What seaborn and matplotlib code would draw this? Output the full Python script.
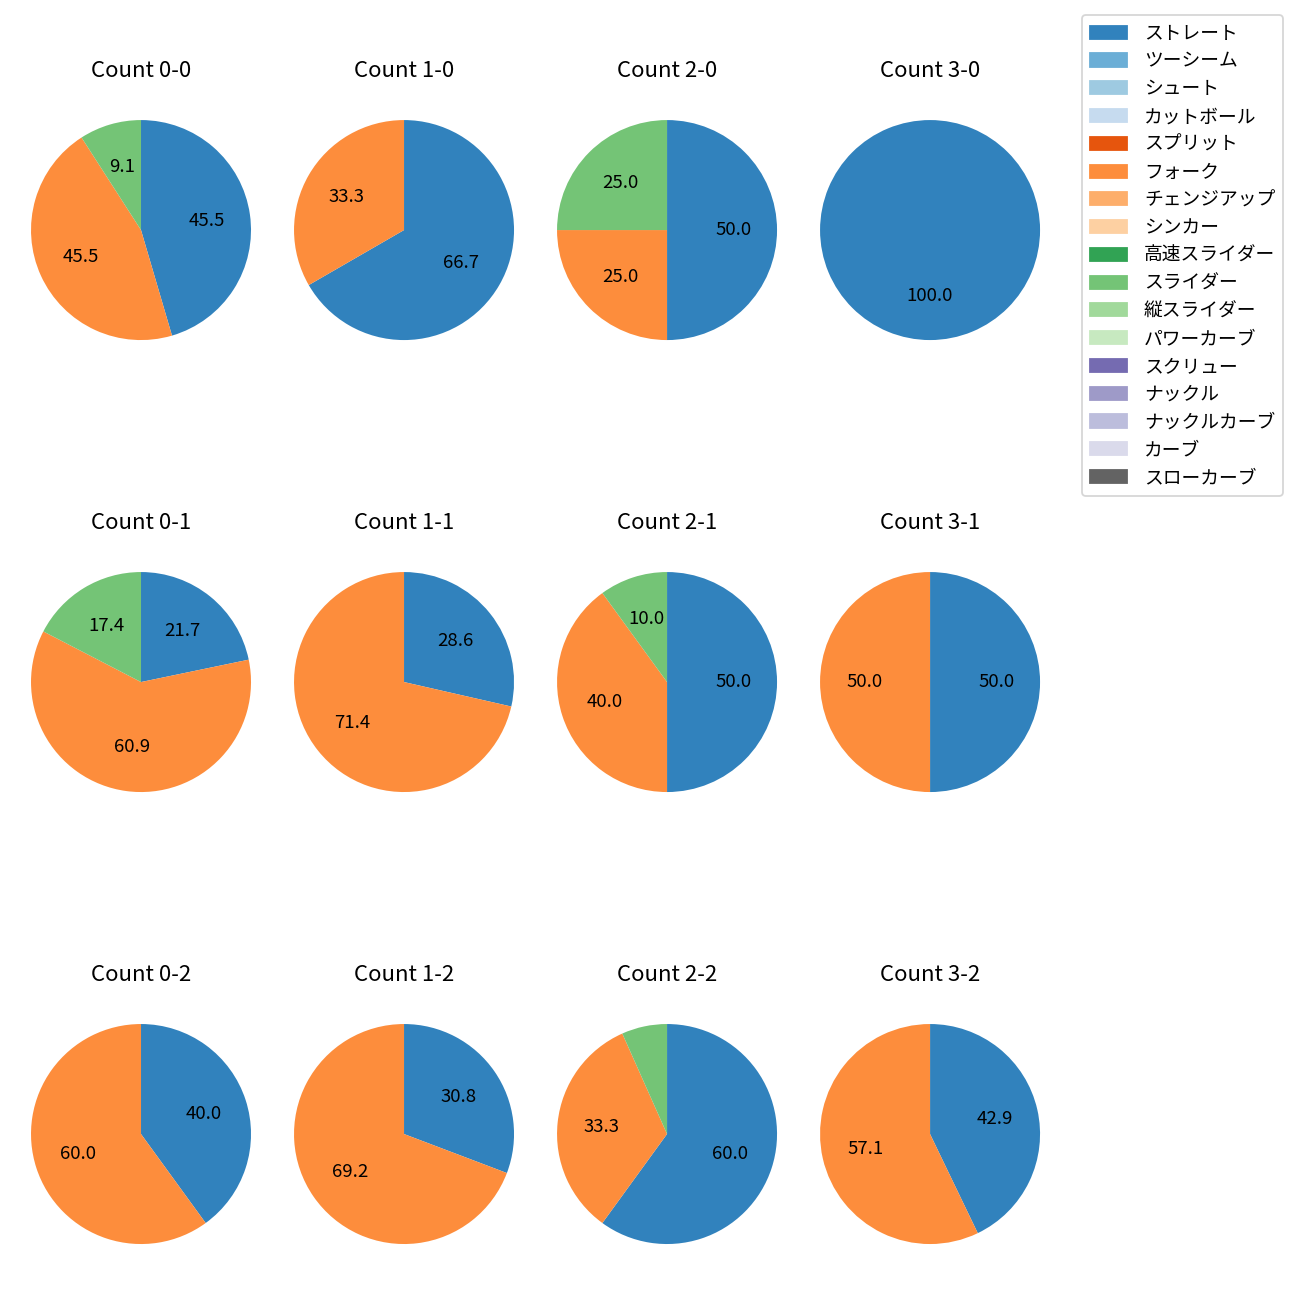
import matplotlib
matplotlib.use('Agg')
import matplotlib.pyplot as plt
import matplotlib.patches as mpatches
import seaborn as sns

# 日本語フォント
plt.rcParams['font.family'] = ['Noto Sans CJK JP', 'DejaVu Sans']

# 球種（凡例の順）
pitch_types = ['ストレート', 'ツーシーム', 'シュート', 'カットボール', 'スプリット', 'フォーク',
               'チェンジアップ', 'シンカー', '高速スライダー', 'スライダー', '縦スライダー',
               'パワーカーブ', 'スクリュー', 'ナックル', 'ナックルカーブ', 'カーブ', 'スローカーブ']

# カウント（行=ストライク, 列=ボール）
count_labels = ['0-0', '1-0', '2-0', '3-0',
                '0-1', '1-1', '2-1', '3-1',
                '0-2', '1-2', '2-2', '3-2']

# 各カウントでの投球数
straight = [5, 2, 2, 1, 5, 2, 5, 1, 2, 4, 9, 3]
fork = [5, 1, 1, 0, 14, 5, 4, 1, 3, 9, 5, 4]
slider = [1, 0, 1, 0, 4, 0, 1, 0, 0, 0, 1, 0]

series = {'ストレート': straight, 'フォーク': fork, 'スライダー': slider}

colors = sns.color_palette('tab20c', 20)[:len(pitch_types)]
color_map = dict(zip(pitch_types, colors))


def pct_label(p):
    return f'{p:.1f}' if p >= 8 else ''


fig, axes = plt.subplots(3, 4, figsize=(10, 10))
plt.subplots_adjust(left=0.0027, right=0.8212, top=0.9288, bottom=0.0219,
                    wspace=-0.0436, hspace=0.6436)

for i, label in enumerate(count_labels):
    ax = axes[i // 4][i % 4]
    names = [n for n in series if series[n][i] > 0]
    vals = [series[n][i] for n in names]
    ax.pie(vals, colors=[color_map[n] for n in names], startangle=90,
           counterclock=False, autopct=pct_label, textprops={'fontsize': 10.3})
    ax.set_title(f'Count {label}', fontsize=12.3, pad=8.8)

handles = [mpatches.Patch(color=color_map[n], label=n) for n in pitch_types]
fig.legend(handles=handles, loc='upper right', bbox_to_anchor=(0.994, 0.9954),
           fontsize=10.4, labelspacing=0.36, handletextpad=0.9)

plt.savefig('out.png', dpi=130)
plt.close()
